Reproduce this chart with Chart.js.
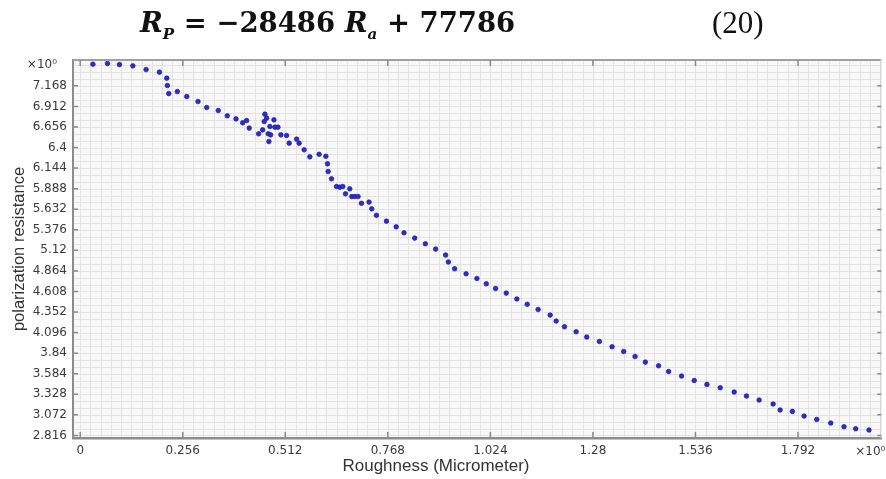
<!DOCTYPE html>
<html>
<head>
<meta charset="utf-8">
<title>Polarization resistance vs roughness</title>
<script src="https://cdn.jsdelivr.net/npm/chart.js@4.4.0/dist/chart.umd.min.js"></script>
<style>
  html, body { margin: 0; padding: 0; background: #fff; }
  #wrap { position: relative; width: 886px; height: 479px; overflow: hidden; }
  #chart { position: absolute; left: 0; top: 0; }
  .eq { position: absolute; left: 140px; top: 6px; font-family: "DejaVu Serif", serif; font-weight: bold; font-size: 27.5px; color: #111; white-space: nowrap; }
  .eq sub { font-size: 0.55em; }
  .eqnum { position: absolute; left: 712px; top: 5px; font-family: "Liberation Serif", serif; font-size: 31px; color: #111; }
</style>
</head>
<body>
<div id="wrap">
  <canvas id="chart" width="886" height="479"></canvas>
  <div class="eq"><i>R<sub>P</sub></i> = &minus;28486 <i>R<sub>a</sub></i> + 77786</div>
  <div class="eqnum">(20)</div>
</div>

<script>
// Data (roughness in micrometer, polarization resistance)
const roughness = [
    0.0317, 0.0681, 0.0980, 0.1314, 0.1645, 0.1977, 0.2161, 0.2176, 0.2211, 0.2425,
    0.2660, 0.2941, 0.3158, 0.3447, 0.3672, 0.3889, 0.4056, 0.4155, 0.4220, 0.4454,
    0.4554, 0.4611, 0.4594, 0.4654, 0.4736, 0.4836, 0.4861, 0.4936, 0.4694, 0.4754,
    0.4711, 0.5010, 0.5152, 0.5217, 0.5402, 0.5466, 0.5591, 0.5733, 0.5965, 0.6132,
    0.6174, 0.6189, 0.6274, 0.6399, 0.6481, 0.6556, 0.6730, 0.6623, 0.6780, 0.6855,
    0.6937, 0.7022, 0.7211, 0.7279, 0.7396, 0.7645, 0.7889, 0.8084, 0.8351, 0.8617,
    0.8874, 0.9123, 0.9191, 0.9348, 0.9634, 0.9904, 1.0138, 1.0370, 1.0636, 1.0901,
    1.1160, 1.1432, 1.1733, 1.1883, 1.2090, 1.2381, 1.2646, 1.2962, 1.3279, 1.3568,
    1.3852, 1.4109, 1.4440, 1.4690, 1.5013, 1.5330, 1.5647, 1.5978, 1.6327, 1.6634,
    1.6950, 1.7299, 1.7474, 1.7780, 1.8072, 1.8389, 1.8738, 1.9069, 1.9361, 1.9692
];

const polarization = [
    7.438, 7.446, 7.433, 7.417, 7.371, 7.339, 7.264, 7.172, 7.072, 7.097,
    7.035, 6.973, 6.898, 6.861, 6.795, 6.757, 6.708, 6.736, 6.642, 6.571,
    6.620, 6.816, 6.724, 6.766, 6.662, 6.745, 6.654, 6.654, 6.571, 6.558,
    6.475, 6.558, 6.550, 6.455, 6.505, 6.455, 6.372, 6.284, 6.316, 6.291,
    6.197, 6.101, 6.011, 5.915, 5.907, 5.915, 5.886, 5.824, 5.790, 5.790,
    5.790, 5.706, 5.721, 5.637, 5.556, 5.484, 5.413, 5.339, 5.273, 5.202,
    5.136, 5.062, 4.975, 4.891, 4.828, 4.770, 4.704, 4.645, 4.588, 4.515,
    4.449, 4.384, 4.314, 4.240, 4.169, 4.107, 4.041, 3.986, 3.920, 3.861,
    3.799, 3.729, 3.683, 3.612, 3.555, 3.500, 3.451, 3.410, 3.356, 3.306,
    3.257, 3.207, 3.132, 3.115, 3.057, 3.015, 2.970, 2.924, 2.899, 2.883
];

// Tick labels as printed on the axes
const xTickValues = [0, 0.256, 0.512, 0.768, 1.024, 1.28, 1.536, 1.792];
const yTickValues = [2.816, 3.072, 3.328, 3.584, 3.84, 4.096, 4.352, 4.608, 4.864,
                     5.12, 5.376, 5.632, 5.888, 6.144, 6.4, 6.656, 6.912, 7.168];
const expLabel = '×10⁰';
const yExpValue = 7.424;

// Axis ranges and minor grid steps
const X_MIN = -0.018, X_MAX = 2.0;
const Y_MIN = 2.784, Y_MAX = 7.49;
const X_MINOR = 0.0256;
const Y_MINOR = 0.256 / 3;

const tickFont = { family: 'DejaVu Sans', size: 12 };
const tickColor = '#3a3a3a';

// Background, fine grid, box, inner tick marks and the extra labels
const plotDecor = {
    id: 'plotDecor',
    beforeDraw(chart) {
        const { ctx, chartArea: a, scales: { x, y } } = chart;
        ctx.save();
        ctx.fillStyle = '#f8f8f8';
        ctx.fillRect(a.left, a.top, a.right - a.left, a.bottom - a.top);

        ctx.strokeStyle = '#e3e3e3';
        ctx.lineWidth = 1;
        ctx.beginPath();
        for (let v = Math.ceil(X_MIN / X_MINOR) * X_MINOR; v <= X_MAX; v += X_MINOR) {
            const px = Math.round(x.getPixelForValue(v)) + 0.5;
            ctx.moveTo(px, a.top);
            ctx.lineTo(px, a.bottom);
        }
        for (let v = Math.ceil(Y_MIN / Y_MINOR) * Y_MINOR; v <= Y_MAX; v += Y_MINOR) {
            const py = Math.round(y.getPixelForValue(v)) + 0.5;
            ctx.moveTo(a.left, py);
            ctx.lineTo(a.right, py);
        }
        ctx.stroke();
        ctx.restore();
    },
    afterDraw(chart) {
        const { ctx, chartArea: a, scales: { x, y } } = chart;
        ctx.save();

        // top and right edges of the box
        ctx.strokeStyle = '#a0a0a0';
        ctx.lineWidth = 2;
        ctx.beginPath();
        ctx.moveTo(a.left, a.top);
        ctx.lineTo(a.right, a.top);
        ctx.stroke();
        ctx.strokeStyle = '#d0d0d0';
        ctx.lineWidth = 1;
        ctx.beginPath();
        ctx.moveTo(a.right - 0.5, a.top);
        ctx.lineTo(a.right - 0.5, a.bottom);
        ctx.stroke();

        // ticks pointing into the plot
        ctx.strokeStyle = '#8a8a8a';
        ctx.lineWidth = 1.5;
        ctx.beginPath();
        xTickValues.forEach(v => {
            const px = x.getPixelForValue(v);
            ctx.moveTo(px, a.bottom);
            ctx.lineTo(px, a.bottom - 6);
            ctx.moveTo(px, a.top);
            ctx.lineTo(px, a.top + 6);
        });
        yTickValues.forEach(v => {
            const py = y.getPixelForValue(v);
            ctx.moveTo(a.left, py);
            ctx.lineTo(a.left + 5, py);
            ctx.moveTo(a.right, py);
            ctx.lineTo(a.right - 4, py);
        });
        ctx.stroke();

        // exponent markers
        ctx.fillStyle = tickColor;
        ctx.font = '12px "DejaVu Sans"';
        ctx.textBaseline = 'middle';
        ctx.textAlign = 'right';
        ctx.fillText(expLabel, a.left - 16, y.getPixelForValue(yExpValue));
        ctx.textAlign = 'center';
        ctx.fillText(expLabel, a.right - 11, a.bottom + 14);

        // x axis title (sits left of centre in the original)
        ctx.fillStyle = '#333';
        ctx.font = '17px "Liberation Sans"';
        ctx.fillText('Roughness (Micrometer)', a.left + 363, a.bottom + 28);
        ctx.restore();
    }
};

function buildChart() {
    const ctx = document.getElementById('chart').getContext('2d');
    const points = roughness.map((r, i) => ({ x: r, y: polarization[i] }));

    new Chart(ctx, {
        type: 'scatter',
        data: {
            datasets: [{
                label: 'polarization resistance',
                data: points,
                pointRadius: 2.3,
                pointBackgroundColor: '#2b2bd8',
                pointBorderColor: '#1c1c90',
                pointBorderWidth: 0.7
            }]
        },
        options: {
            responsive: false,
            animation: false,
            layout: { padding: { top: 60, right: 4, left: 0, bottom: 0 } },
            plugins: {
                legend: { display: false },
                tooltip: { enabled: false }
            },
            scales: {
                x: {
                    type: 'linear',
                    min: X_MIN,
                    max: X_MAX,
                    afterBuildTicks: scale => { scale.ticks = xTickValues.map(v => ({ value: v })); },
                    afterFit: scale => { scale.height = 41; },
                    ticks: {
                        autoSkip: false,
                        maxRotation: 0,
                        padding: 6,
                        color: tickColor,
                        font: tickFont,
                        callback: v => String(v)
                    },
                    grid: { display: true, drawOnChartArea: false, drawTicks: false },
                    border: { display: true, color: '#8c8c8c', width: 2.5 }
                },
                y: {
                    type: 'linear',
                    min: Y_MIN,
                    max: Y_MAX,
                    afterBuildTicks: scale => { scale.ticks = yTickValues.map(v => ({ value: v })); },
                    afterFit: scale => { scale.width = 73; },
                    ticks: {
                        autoSkip: false,
                        padding: 6,
                        color: tickColor,
                        font: tickFont,
                        callback: v => String(v)
                    },
                    grid: { display: true, drawOnChartArea: false, drawTicks: false },
                    border: { display: true, color: '#8c8c8c', width: 2 },
                    title: {
                        display: true,
                        text: 'polarization resistance',
                        color: '#333',
                        font: { family: 'Liberation Sans', size: 16.5 },
                        padding: { top: 10, bottom: 0 }
                    }
                }
            }
        },
        plugins: [plotDecor]
    });
}

document.addEventListener('DOMContentLoaded', buildChart);
</script>
</body>
</html>
